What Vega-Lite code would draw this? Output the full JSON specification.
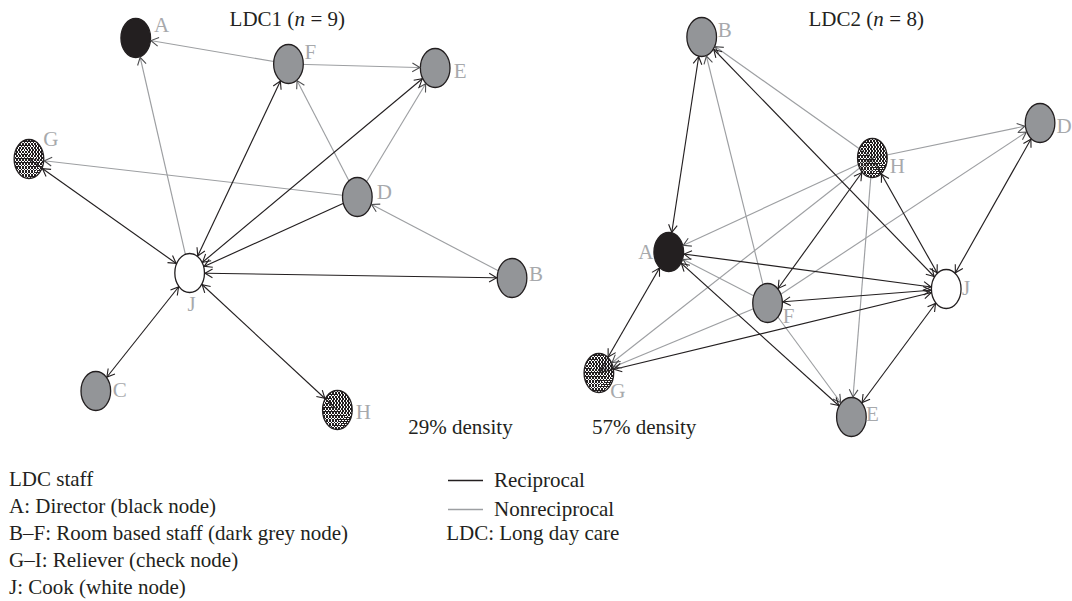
{
  "$schema": "https://vega.github.io/schema/vega-lite/v6.json",
  "width": 1072,
  "height": 601,
  "padding": 0,
  "autosize": {"type": "fit", "contains": "padding"},
  "background": "#ffffff",
  "config": {"view": {"stroke": null}},
  "datasets": {
    "nodes": [
      {"id": "1A", "n": "A", "kind": "director", "x": 136, "y": 38, "lx": 162, "ly": 26},
      {"id": "1F", "n": "F", "kind": "staff", "x": 289, "y": 64, "lx": 311, "ly": 53},
      {"id": "1E", "n": "E", "kind": "staff", "x": 436, "y": 68, "lx": 461, "ly": 72},
      {"id": "1G", "n": "G", "kind": "check", "x": 29, "y": 159, "lx": 51, "ly": 140},
      {"id": "1D", "n": "D", "kind": "staff", "x": 358, "y": 197, "lx": 385, "ly": 193},
      {"id": "1J", "n": "J", "kind": "cook", "x": 190, "y": 273, "lx": 192, "ly": 305},
      {"id": "1B", "n": "B", "kind": "staff", "x": 513, "y": 278, "lx": 537, "ly": 275},
      {"id": "1C", "n": "C", "kind": "staff", "x": 96, "y": 391, "lx": 120, "ly": 391},
      {"id": "1H", "n": "H", "kind": "check", "x": 338, "y": 410, "lx": 364, "ly": 413},
      {"id": "2B", "n": "B", "kind": "staff", "x": 703, "y": 37, "lx": 726, "ly": 31},
      {"id": "2D", "n": "D", "kind": "staff", "x": 1042, "y": 123, "lx": 1066, "ly": 127},
      {"id": "2H", "n": "H", "kind": "check", "x": 874, "y": 158, "lx": 899, "ly": 167},
      {"id": "2A", "n": "A", "kind": "director", "x": 670, "y": 252, "lx": 647, "ly": 253},
      {"id": "2J", "n": "J", "kind": "cook", "x": 948, "y": 289, "lx": 968, "ly": 289},
      {"id": "2F", "n": "F", "kind": "staff", "x": 769, "y": 303, "lx": 790, "ly": 317},
      {"id": "2G", "n": "G", "kind": "check", "x": 600, "y": 373, "lx": 619, "ly": 392},
      {"id": "2E", "n": "E", "kind": "staff", "x": 853, "y": 417, "lx": 874, "ly": 415}
    ],
    "edges": [
      {"from": "1F", "to": "1A", "type": "Nonreciprocal", "bidir": false},
      {"from": "1J", "to": "1A", "type": "Nonreciprocal", "bidir": false},
      {"from": "1F", "to": "1E", "type": "Nonreciprocal", "bidir": false},
      {"from": "1D", "to": "1F", "type": "Nonreciprocal", "bidir": false},
      {"from": "1D", "to": "1E", "type": "Nonreciprocal", "bidir": false},
      {"from": "1D", "to": "1G", "type": "Nonreciprocal", "bidir": false},
      {"from": "1B", "to": "1D", "type": "Nonreciprocal", "bidir": false},
      {"from": "1J", "to": "1F", "type": "Reciprocal", "bidir": true},
      {"from": "1J", "to": "1E", "type": "Reciprocal", "bidir": true},
      {"from": "1J", "to": "1G", "type": "Reciprocal", "bidir": true},
      {"from": "1J", "to": "1B", "type": "Reciprocal", "bidir": true},
      {"from": "1J", "to": "1C", "type": "Reciprocal", "bidir": true},
      {"from": "1J", "to": "1H", "type": "Reciprocal", "bidir": true},
      {"from": "1D", "to": "1J", "type": "Reciprocal", "bidir": false},
      {"from": "2F", "to": "2B", "type": "Nonreciprocal", "bidir": false},
      {"from": "2H", "to": "2B", "type": "Nonreciprocal", "bidir": false},
      {"from": "2H", "to": "2D", "type": "Nonreciprocal", "bidir": false},
      {"from": "2F", "to": "2D", "type": "Nonreciprocal", "bidir": false},
      {"from": "2H", "to": "2A", "type": "Nonreciprocal", "bidir": false},
      {"from": "2H", "to": "2G", "type": "Nonreciprocal", "bidir": false},
      {"from": "2H", "to": "2E", "type": "Nonreciprocal", "bidir": false},
      {"from": "2F", "to": "2A", "type": "Nonreciprocal", "bidir": false},
      {"from": "2F", "to": "2G", "type": "Nonreciprocal", "bidir": false},
      {"from": "2F", "to": "2E", "type": "Nonreciprocal", "bidir": false},
      {"from": "2B", "to": "2A", "type": "Reciprocal", "bidir": true},
      {"from": "2J", "to": "2B", "type": "Reciprocal", "bidir": true},
      {"from": "2D", "to": "2J", "type": "Reciprocal", "bidir": true},
      {"from": "2H", "to": "2F", "type": "Reciprocal", "bidir": true},
      {"from": "2H", "to": "2J", "type": "Reciprocal", "bidir": true},
      {"from": "2J", "to": "2A", "type": "Reciprocal", "bidir": true},
      {"from": "2J", "to": "2F", "type": "Reciprocal", "bidir": true},
      {"from": "2J", "to": "2G", "type": "Reciprocal", "bidir": true},
      {"from": "2J", "to": "2E", "type": "Reciprocal", "bidir": true},
      {"from": "2A", "to": "2G", "type": "Reciprocal", "bidir": true},
      {"from": "2A", "to": "2E", "type": "Reciprocal", "bidir": true}
    ],
    "notes": [
      {"t": "LDC1 (", "x": 230, "y": 20, "s": "n"},
      {"t": "n", "x": 295, "y": 20, "s": "i"},
      {"t": "= 9)", "x": 311, "y": 20, "s": "n"},
      {"t": "LDC2 (", "x": 810, "y": 20, "s": "n"},
      {"t": "n", "x": 875, "y": 20, "s": "i"},
      {"t": "= 8)", "x": 891, "y": 20, "s": "n"},
      {"t": "29% density", "x": 409, "y": 428, "s": "n"},
      {"t": "57% density", "x": 593, "y": 428, "s": "n"},
      {"t": "LDC staff", "x": 9, "y": 480, "s": "n"},
      {"t": "A: Director (black node)", "x": 9, "y": 507, "s": "n"},
      {"t": "B–F: Room based staff (dark grey node)", "x": 9, "y": 534, "s": "n"},
      {"t": "G–I: Reliever (check node)", "x": 9, "y": 561, "s": "n"},
      {"t": "J: Cook (white node)", "x": 9, "y": 588, "s": "n"},
      {"t": "LDC: Long day care", "x": 447, "y": 534, "s": "n"}
    ]
  },
  "layer": [
    {
      "data": {"name": "edges"},
      "transform": [
        {"lookup": "from", "from": {"data": {"name": "nodes"}, "key": "id", "fields": ["x", "y"]}, "as": ["sx", "sy"]},
        {"lookup": "to", "from": {"data": {"name": "nodes"}, "key": "id", "fields": ["x", "y"]}, "as": ["tx", "ty"]}
      ],
      "mark": {"type": "rule", "strokeWidth": 1.15},
      "encoding": {
        "x": {"field": "sx", "type": "quantitative", "scale": {"domain": [0, 1072], "nice": false, "zero": false}, "axis": null},
        "y": {"field": "sy", "type": "quantitative", "scale": {"domain": [0, 601], "nice": false, "zero": false, "reverse": true}, "axis": null},
        "x2": {"field": "tx"},
        "y2": {"field": "ty"},
        "stroke": {
          "field": "type", "type": "nominal",
          "scale": {"domain": ["Reciprocal", "Nonreciprocal"], "range": ["#231f20", "#9d9fa2"]},
          "legend": {
            "orient": "none", "legendX": 447, "legendY": 462, "title": null,
            "symbolType": "stroke", "symbolSize": 1225, "symbolStrokeWidth": 1.3,
            "labelFont": "Liberation Serif", "labelFontSize": 21, "labelColor": "#231f20",
            "labelOffset": 10, "rowPadding": -8, "labelLimit": 300
          }
        }
      }
    },
    {
      "data": {"name": "nodes"},
      "transform": [{"filter": "datum.kind != 'check'"}],
      "mark": {
        "type": "point", "filled": true, "opacity": 1, "size": 1521,
        "shape": "M0.76,0C0.76,0.552 0.42,1 0,1C-0.42,1 -0.76,0.552 -0.76,0C-0.76,-0.552 -0.42,-1 0,-1C0.42,-1 0.76,-0.552 0.76,0Z",
        "stroke": "#231f20", "strokeWidth": 1.3
      },
      "encoding": {
        "x": {"field": "x", "type": "quantitative"},
        "y": {"field": "y", "type": "quantitative"},
        "fill": {"field": "kind", "type": "nominal", "scale": {"domain": ["director", "staff", "cook"], "range": ["#231f20", "#939598", "#ffffff"]}, "legend": null}
      }
    },
    {
      "data": {"name": "nodes"},
      "transform": [{"filter": "datum.kind == 'check'"}],
      "mark": {
        "type": "point", "filled": true, "opacity": 1, "size": 1521, "strokeWidth": 0,
        "shape": "M0.76,0C0.76,0.552 0.42,1 0,1C-0.42,1 -0.76,0.552 -0.76,0C-0.76,-0.552 -0.42,-1 0,-1C0.42,-1 0.76,-0.552 0.76,0Z",
        "fill": {"gradient": "linear", "x1": 0, "y1": 0, "x2": 1, "y2": 1, "stops": [
          {"offset": 0, "color": "#231f20"}, {"offset": 0.02, "color": "#231f20"}, {"offset": 0.02, "color": "rgba(0,0,0,0)"}, {"offset": 0.05, "color": "rgba(0,0,0,0)"},
          {"offset": 0.05, "color": "#231f20"}, {"offset": 0.07, "color": "#231f20"}, {"offset": 0.07, "color": "rgba(0,0,0,0)"}, {"offset": 0.1, "color": "rgba(0,0,0,0)"},
          {"offset": 0.1, "color": "#231f20"}, {"offset": 0.12, "color": "#231f20"}, {"offset": 0.12, "color": "rgba(0,0,0,0)"}, {"offset": 0.15, "color": "rgba(0,0,0,0)"},
          {"offset": 0.15, "color": "#231f20"}, {"offset": 0.17, "color": "#231f20"}, {"offset": 0.17, "color": "rgba(0,0,0,0)"}, {"offset": 0.2, "color": "rgba(0,0,0,0)"},
          {"offset": 0.2, "color": "#231f20"}, {"offset": 0.22, "color": "#231f20"}, {"offset": 0.22, "color": "rgba(0,0,0,0)"}, {"offset": 0.25, "color": "rgba(0,0,0,0)"},
          {"offset": 0.25, "color": "#231f20"}, {"offset": 0.27, "color": "#231f20"}, {"offset": 0.27, "color": "rgba(0,0,0,0)"}, {"offset": 0.3, "color": "rgba(0,0,0,0)"},
          {"offset": 0.3, "color": "#231f20"}, {"offset": 0.32, "color": "#231f20"}, {"offset": 0.32, "color": "rgba(0,0,0,0)"}, {"offset": 0.35, "color": "rgba(0,0,0,0)"},
          {"offset": 0.35, "color": "#231f20"}, {"offset": 0.37, "color": "#231f20"}, {"offset": 0.37, "color": "rgba(0,0,0,0)"}, {"offset": 0.4, "color": "rgba(0,0,0,0)"},
          {"offset": 0.4, "color": "#231f20"}, {"offset": 0.42, "color": "#231f20"}, {"offset": 0.42, "color": "rgba(0,0,0,0)"}, {"offset": 0.45, "color": "rgba(0,0,0,0)"},
          {"offset": 0.45, "color": "#231f20"}, {"offset": 0.47, "color": "#231f20"}, {"offset": 0.47, "color": "rgba(0,0,0,0)"}, {"offset": 0.5, "color": "rgba(0,0,0,0)"},
          {"offset": 0.5, "color": "#231f20"}, {"offset": 0.52, "color": "#231f20"}, {"offset": 0.52, "color": "rgba(0,0,0,0)"}, {"offset": 0.55, "color": "rgba(0,0,0,0)"},
          {"offset": 0.55, "color": "#231f20"}, {"offset": 0.57, "color": "#231f20"}, {"offset": 0.57, "color": "rgba(0,0,0,0)"}, {"offset": 0.6, "color": "rgba(0,0,0,0)"},
          {"offset": 0.6, "color": "#231f20"}, {"offset": 0.62, "color": "#231f20"}, {"offset": 0.62, "color": "rgba(0,0,0,0)"}, {"offset": 0.65, "color": "rgba(0,0,0,0)"},
          {"offset": 0.65, "color": "#231f20"}, {"offset": 0.67, "color": "#231f20"}, {"offset": 0.67, "color": "rgba(0,0,0,0)"}, {"offset": 0.7, "color": "rgba(0,0,0,0)"},
          {"offset": 0.7, "color": "#231f20"}, {"offset": 0.72, "color": "#231f20"}, {"offset": 0.72, "color": "rgba(0,0,0,0)"}, {"offset": 0.75, "color": "rgba(0,0,0,0)"},
          {"offset": 0.75, "color": "#231f20"}, {"offset": 0.77, "color": "#231f20"}, {"offset": 0.77, "color": "rgba(0,0,0,0)"}, {"offset": 0.8, "color": "rgba(0,0,0,0)"},
          {"offset": 0.8, "color": "#231f20"}, {"offset": 0.82, "color": "#231f20"}, {"offset": 0.82, "color": "rgba(0,0,0,0)"}, {"offset": 0.85, "color": "rgba(0,0,0,0)"},
          {"offset": 0.85, "color": "#231f20"}, {"offset": 0.87, "color": "#231f20"}, {"offset": 0.87, "color": "rgba(0,0,0,0)"}, {"offset": 0.9, "color": "rgba(0,0,0,0)"},
          {"offset": 0.9, "color": "#231f20"}, {"offset": 0.92, "color": "#231f20"}, {"offset": 0.92, "color": "rgba(0,0,0,0)"}, {"offset": 0.95, "color": "rgba(0,0,0,0)"},
          {"offset": 0.95, "color": "#231f20"}, {"offset": 0.97, "color": "#231f20"}, {"offset": 0.97, "color": "rgba(0,0,0,0)"}, {"offset": 1, "color": "rgba(0,0,0,0)"}
        ]}
      },
      "encoding": {
        "x": {"field": "x", "type": "quantitative"},
        "y": {"field": "y", "type": "quantitative"}
      }
    },
    {
      "data": {"name": "nodes"},
      "transform": [{"filter": "datum.kind == 'check'"}],
      "mark": {
        "type": "point", "filled": true, "opacity": 1, "size": 1521,
        "stroke": "#231f20", "strokeWidth": 1.3,
        "shape": "M0.76,0C0.76,0.552 0.42,1 0,1C-0.42,1 -0.76,0.552 -0.76,0C-0.76,-0.552 -0.42,-1 0,-1C0.42,-1 0.76,-0.552 0.76,0Z",
        "fill": {"gradient": "linear", "x1": 1, "y1": 0, "x2": 0, "y2": 1, "stops": [
          {"offset": 0, "color": "#231f20"}, {"offset": 0.02, "color": "#231f20"}, {"offset": 0.02, "color": "rgba(0,0,0,0)"}, {"offset": 0.05, "color": "rgba(0,0,0,0)"},
          {"offset": 0.05, "color": "#231f20"}, {"offset": 0.07, "color": "#231f20"}, {"offset": 0.07, "color": "rgba(0,0,0,0)"}, {"offset": 0.1, "color": "rgba(0,0,0,0)"},
          {"offset": 0.1, "color": "#231f20"}, {"offset": 0.12, "color": "#231f20"}, {"offset": 0.12, "color": "rgba(0,0,0,0)"}, {"offset": 0.15, "color": "rgba(0,0,0,0)"},
          {"offset": 0.15, "color": "#231f20"}, {"offset": 0.17, "color": "#231f20"}, {"offset": 0.17, "color": "rgba(0,0,0,0)"}, {"offset": 0.2, "color": "rgba(0,0,0,0)"},
          {"offset": 0.2, "color": "#231f20"}, {"offset": 0.22, "color": "#231f20"}, {"offset": 0.22, "color": "rgba(0,0,0,0)"}, {"offset": 0.25, "color": "rgba(0,0,0,0)"},
          {"offset": 0.25, "color": "#231f20"}, {"offset": 0.27, "color": "#231f20"}, {"offset": 0.27, "color": "rgba(0,0,0,0)"}, {"offset": 0.3, "color": "rgba(0,0,0,0)"},
          {"offset": 0.3, "color": "#231f20"}, {"offset": 0.32, "color": "#231f20"}, {"offset": 0.32, "color": "rgba(0,0,0,0)"}, {"offset": 0.35, "color": "rgba(0,0,0,0)"},
          {"offset": 0.35, "color": "#231f20"}, {"offset": 0.37, "color": "#231f20"}, {"offset": 0.37, "color": "rgba(0,0,0,0)"}, {"offset": 0.4, "color": "rgba(0,0,0,0)"},
          {"offset": 0.4, "color": "#231f20"}, {"offset": 0.42, "color": "#231f20"}, {"offset": 0.42, "color": "rgba(0,0,0,0)"}, {"offset": 0.45, "color": "rgba(0,0,0,0)"},
          {"offset": 0.45, "color": "#231f20"}, {"offset": 0.47, "color": "#231f20"}, {"offset": 0.47, "color": "rgba(0,0,0,0)"}, {"offset": 0.5, "color": "rgba(0,0,0,0)"},
          {"offset": 0.5, "color": "#231f20"}, {"offset": 0.52, "color": "#231f20"}, {"offset": 0.52, "color": "rgba(0,0,0,0)"}, {"offset": 0.55, "color": "rgba(0,0,0,0)"},
          {"offset": 0.55, "color": "#231f20"}, {"offset": 0.57, "color": "#231f20"}, {"offset": 0.57, "color": "rgba(0,0,0,0)"}, {"offset": 0.6, "color": "rgba(0,0,0,0)"},
          {"offset": 0.6, "color": "#231f20"}, {"offset": 0.62, "color": "#231f20"}, {"offset": 0.62, "color": "rgba(0,0,0,0)"}, {"offset": 0.65, "color": "rgba(0,0,0,0)"},
          {"offset": 0.65, "color": "#231f20"}, {"offset": 0.67, "color": "#231f20"}, {"offset": 0.67, "color": "rgba(0,0,0,0)"}, {"offset": 0.7, "color": "rgba(0,0,0,0)"},
          {"offset": 0.7, "color": "#231f20"}, {"offset": 0.72, "color": "#231f20"}, {"offset": 0.72, "color": "rgba(0,0,0,0)"}, {"offset": 0.75, "color": "rgba(0,0,0,0)"},
          {"offset": 0.75, "color": "#231f20"}, {"offset": 0.77, "color": "#231f20"}, {"offset": 0.77, "color": "rgba(0,0,0,0)"}, {"offset": 0.8, "color": "rgba(0,0,0,0)"},
          {"offset": 0.8, "color": "#231f20"}, {"offset": 0.82, "color": "#231f20"}, {"offset": 0.82, "color": "rgba(0,0,0,0)"}, {"offset": 0.85, "color": "rgba(0,0,0,0)"},
          {"offset": 0.85, "color": "#231f20"}, {"offset": 0.87, "color": "#231f20"}, {"offset": 0.87, "color": "rgba(0,0,0,0)"}, {"offset": 0.9, "color": "rgba(0,0,0,0)"},
          {"offset": 0.9, "color": "#231f20"}, {"offset": 0.92, "color": "#231f20"}, {"offset": 0.92, "color": "rgba(0,0,0,0)"}, {"offset": 0.95, "color": "rgba(0,0,0,0)"},
          {"offset": 0.95, "color": "#231f20"}, {"offset": 0.97, "color": "#231f20"}, {"offset": 0.97, "color": "rgba(0,0,0,0)"}, {"offset": 1, "color": "rgba(0,0,0,0)"}
        ]}
      },
      "encoding": {
        "x": {"field": "x", "type": "quantitative"},
        "y": {"field": "y", "type": "quantitative"}
      }
    },
    {
      "data": {"name": "edges"},
      "transform": [
        {"lookup": "from", "from": {"data": {"name": "nodes"}, "key": "id", "fields": ["x", "y"]}, "as": ["sx", "sy"]},
        {"lookup": "to", "from": {"data": {"name": "nodes"}, "key": "id", "fields": ["x", "y"]}, "as": ["tx", "ty"]},
        {"calculate": "datum.tx - datum.sx", "as": "dx"},
        {"calculate": "datum.ty - datum.sy", "as": "dy"},
        {"calculate": "sqrt(datum.dx * datum.dx + datum.dy * datum.dy)", "as": "len"},
        {"calculate": "1 / sqrt(pow(datum.dx / datum.len / 15.4, 2) + pow(datum.dy / datum.len / 20.1, 2))", "as": "k"},
        {"calculate": "datum.tx - datum.dx / datum.len * datum.k", "as": "hx"},
        {"calculate": "datum.ty - datum.dy / datum.len * datum.k", "as": "hy"},
        {"calculate": "atan2(datum.dy, datum.dx) * 180 / PI", "as": "ang"}
      ],
      "mark": {"type": "point", "filled": false, "opacity": 1, "size": 225, "strokeWidth": 1.1, "shape": "M-1,-0.58L0,0L-1,0.58"},
      "encoding": {
        "x": {"field": "hx", "type": "quantitative"},
        "y": {"field": "hy", "type": "quantitative"},
        "angle": {"field": "ang", "type": "quantitative", "scale": null},
        "stroke": {"condition": {"test": "datum.type == 'Reciprocal'", "value": "#231f20"}, "value": "#4d4d4f"}
      }
    },
    {
      "data": {"name": "edges"},
      "transform": [
        {"filter": "datum.bidir"},
        {"lookup": "from", "from": {"data": {"name": "nodes"}, "key": "id", "fields": ["x", "y"]}, "as": ["sx", "sy"]},
        {"lookup": "to", "from": {"data": {"name": "nodes"}, "key": "id", "fields": ["x", "y"]}, "as": ["tx", "ty"]},
        {"calculate": "datum.tx - datum.sx", "as": "dx"},
        {"calculate": "datum.ty - datum.sy", "as": "dy"},
        {"calculate": "sqrt(datum.dx * datum.dx + datum.dy * datum.dy)", "as": "len"},
        {"calculate": "1 / sqrt(pow(datum.dx / datum.len / 15.4, 2) + pow(datum.dy / datum.len / 20.1, 2))", "as": "k"},
        {"calculate": "datum.sx + datum.dx / datum.len * datum.k", "as": "hx"},
        {"calculate": "datum.sy + datum.dy / datum.len * datum.k", "as": "hy"},
        {"calculate": "atan2(datum.dy, datum.dx) * 180 / PI + 180", "as": "ang"}
      ],
      "mark": {"type": "point", "filled": false, "opacity": 1, "size": 225, "strokeWidth": 1.1, "shape": "M-1,-0.58L0,0L-1,0.58", "stroke": "#231f20"},
      "encoding": {
        "x": {"field": "hx", "type": "quantitative"},
        "y": {"field": "hy", "type": "quantitative"},
        "angle": {"field": "ang", "type": "quantitative", "scale": null}
      }
    },
    {
      "data": {"name": "nodes"},
      "mark": {"type": "text", "font": "Liberation Serif", "fontSize": 21, "align": "center", "baseline": "middle", "color": "#a7a9ac"},
      "encoding": {
        "x": {"field": "lx", "type": "quantitative"},
        "y": {"field": "ly", "type": "quantitative"},
        "text": {"field": "n"}
      }
    },
    {
      "data": {"name": "notes"},
      "transform": [{"filter": "datum.s == 'n'"}],
      "mark": {"type": "text", "font": "Liberation Serif", "fontSize": 21, "align": "left", "baseline": "middle", "color": "#231f20"},
      "encoding": {
        "x": {"field": "x", "type": "quantitative"},
        "y": {"field": "y", "type": "quantitative"},
        "text": {"field": "t"}
      }
    },
    {
      "data": {"name": "notes"},
      "transform": [{"filter": "datum.s == 'i'"}],
      "mark": {"type": "text", "font": "Liberation Serif", "fontSize": 21, "fontStyle": "italic", "align": "left", "baseline": "middle", "color": "#231f20"},
      "encoding": {
        "x": {"field": "x", "type": "quantitative"},
        "y": {"field": "y", "type": "quantitative"},
        "text": {"field": "t"}
      }
    }
  ]
}
